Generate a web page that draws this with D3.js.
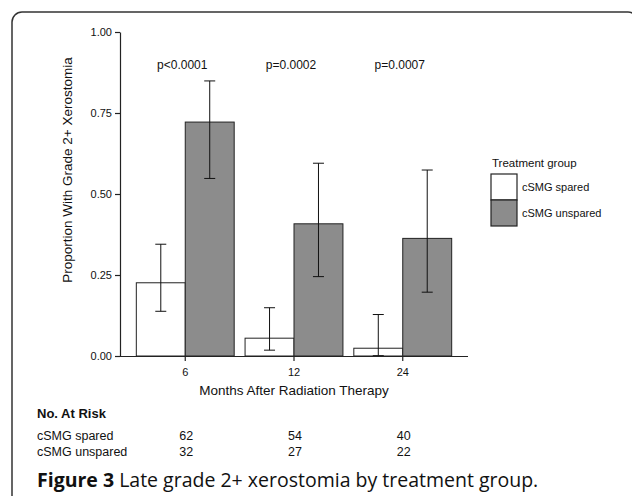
<!DOCTYPE html>
<html>
<head>
<meta charset="utf-8">
<script src="https://cdn.jsdelivr.net/npm/d3@7"></script>
<style>
  body { margin: 0; background: #fff; }
  svg text { font-family: "Liberation Sans", Arial, sans-serif; fill: #111; }
</style>
</head>
<body>
<div id="chart"></div>
<script>
/* Late grade 2+ xerostomia by treatment group */

const months = ["6", "12", "24"];
const groups = ["cSMG spared", "cSMG unspared"];
const spared = [0.226, 0.055, 0.024];
const sparedLo = [0.138, 0.018, 0.001];
const sparedHi = [0.345, 0.149, 0.128];
const unspared = [0.722, 0.408, 0.363];
const unsparedLo = [0.548, 0.245, 0.197];
const unsparedHi = [0.849, 0.595, 0.574];
const pValues = ["p<0.0001", "p=0.0002", "p=0.0007"];
const atRiskSpared = [62, 54, 40];
const atRiskUnspared = [32, 27, 22];
const yTicks = [0, 0.25, 0.5, 0.75, 1];

const width = 632,
      height = 496,
      margin = ({ top: 32, right: 164, bottom: 140, left: 120 });

const colors = ["#ffffff", "#8c8c8c"];

// one row per bar
const bars = [];
months.forEach((m, i) => {
    bars.push({ month: m, group: groups[0], value: spared[i], lo: sparedLo[i], hi: sparedHi[i] });
    bars.push({ month: m, group: groups[1], value: unspared[i], lo: unsparedLo[i], hi: unsparedHi[i] });
});

let svg = d3.select("#chart")
            .append("svg")
            .attr("width", width)
            .attr("height", height)
            .attr("viewBox", [0, 0, width, height]);

// frame
svg.append("rect")
    .attr("x", 12).attr("y", 12)
    .attr("width", 626).attr("height", 520)
    .attr("rx", 10)
    .attr("fill", "none")
    .attr("stroke", "#333")
    .attr("stroke-width", 1.5);

const x = d3.scaleBand()
            .domain(months)
            .range([margin.left, width - margin.right])
            .paddingInner(0.1)
            .paddingOuter(0.15);

const xg = d3.scaleBand()
             .domain(groups)
             .range([0, x.bandwidth()]);

const y = d3.scaleLinear()
            .domain([0, 1])
            .range([height - margin.bottom, margin.top]);

const color = d3.scaleOrdinal().domain(groups).range(colors);

// bars
svg.append("g")
    .selectAll("rect")
    .data(bars)
    .join("rect")
    .attr("x", d => x(d.month) + xg(d.group))
    .attr("y", d => y(d.value))
    .attr("width", xg.bandwidth())
    .attr("height", d => y(0) - y(d.value))
    .attr("fill", d => color(d.group))
    .attr("stroke", "#222")
    .attr("stroke-width", 1);

// error bars
const cap = 5.5;
const err = svg.append("g")
    .attr("stroke", "#111")
    .attr("stroke-width", 1)
    .selectAll("g")
    .data(bars)
    .join("g")
    .attr("transform", d => `translate(${x(d.month) + xg(d.group) + xg.bandwidth() / 2},0)`);

err.append("line")
    .attr("y1", d => y(d.lo)).attr("y2", d => y(d.hi));
err.append("line")
    .attr("x1", -cap).attr("x2", cap)
    .attr("y1", d => y(d.hi)).attr("y2", d => y(d.hi));
err.append("line")
    .attr("x1", -cap).attr("x2", cap)
    .attr("y1", d => y(d.lo)).attr("y2", d => y(d.lo));

// axes
const xAxis = g => g
    .attr("transform", `translate(0,${y(0)})`)
    .call(d3.axisBottom(x).tickSize(5).tickSizeOuter(0).tickPadding(7))
    .call(g => g.select(".domain").attr("d", `M${margin.left},0.5H${width - margin.right}`));

const yAxis = g => g
    .attr("transform", `translate(${margin.left},0)`)
    .call(d3.axisLeft(y).tickValues(yTicks).tickFormat(d3.format(".2f")).tickSize(5).tickSizeOuter(0).tickPadding(3));

svg.append("g").call(xAxis);
svg.append("g").call(yAxis);

svg.selectAll(".tick text")
    .attr("font-size", 11)
    .attr("font-family", "Liberation Sans, Arial, sans-serif")
    .attr("fill", "#111");
svg.selectAll(".domain, .tick line").attr("stroke", "#222").attr("stroke-width", 1.2);

// axis titles
svg.append("text")
    .attr("x", (margin.left + width - margin.right) / 2)
    .attr("y", 395)
    .attr("text-anchor", "middle")
    .attr("font-size", 13.5)
    .text("Months After Radiation Therapy");

svg.append("text")
    .attr("transform", "translate(72,170) rotate(-90)")
    .attr("text-anchor", "middle")
    .attr("font-size", 13.5)
    .text("Proportion With Grade 2+ Xerostomia");

// p values
svg.append("g")
    .selectAll("text")
    .data(pValues)
    .join("text")
    .attr("x", (d, i) => x(months[i]) + x.bandwidth() / 2 - 3)
    .attr("y", 69)
    .attr("text-anchor", "middle")
    .attr("font-size", 12)
    .text(d => d);

// legend
const legend = svg.append("g").attr("transform", "translate(491,167)");
legend.append("text")
    .attr("x", 1).attr("y", 0)
    .attr("font-size", 11.5)
    .text("Treatment group");
const items = legend.selectAll("g")
    .data(groups)
    .join("g")
    .attr("transform", (d, i) => `translate(0,${7 + i * 26})`);
items.append("rect")
    .attr("width", 26).attr("height", 26)
    .attr("fill", d => color(d))
    .attr("stroke", "#222")
    .attr("stroke-width", 1.2);
items.append("text")
    .attr("x", 31).attr("y", 17)
    .attr("font-size", 11)
    .text(d => d);

// number at risk table
svg.append("text")
    .attr("x", 37).attr("y", 418)
    .attr("font-size", 13)
    .attr("font-weight", "bold")
    .text("No. At Risk");

const rows = [atRiskSpared, atRiskUnspared];
rows.forEach((row, r) => {
    const ry = 440 + r * 16;
    svg.append("text")
        .attr("x", 37).attr("y", ry)
        .attr("font-size", 12.5)
        .text(groups[r]);
    svg.append("g")
        .selectAll("text")
        .data(row)
        .join("text")
        .attr("x", (d, i) => x(months[i]) + x.bandwidth() / 2 + 1)
        .attr("y", ry)
        .attr("text-anchor", "middle")
        .attr("font-size", 12.5)
        .text(d => d);
});

// caption
const caption = svg.append("text")
    .attr("x", 37).attr("y", 487)
    .attr("font-size", 19.5)
    .style("font-family", "'Open Sans', sans-serif");
caption.append("tspan").attr("font-weight", "bold").text("Figure 3");
caption.append("tspan").attr("font-weight", 500).text(" Late grade 2+ xerostomia by treatment group.");
</script>
</body>
</html>
